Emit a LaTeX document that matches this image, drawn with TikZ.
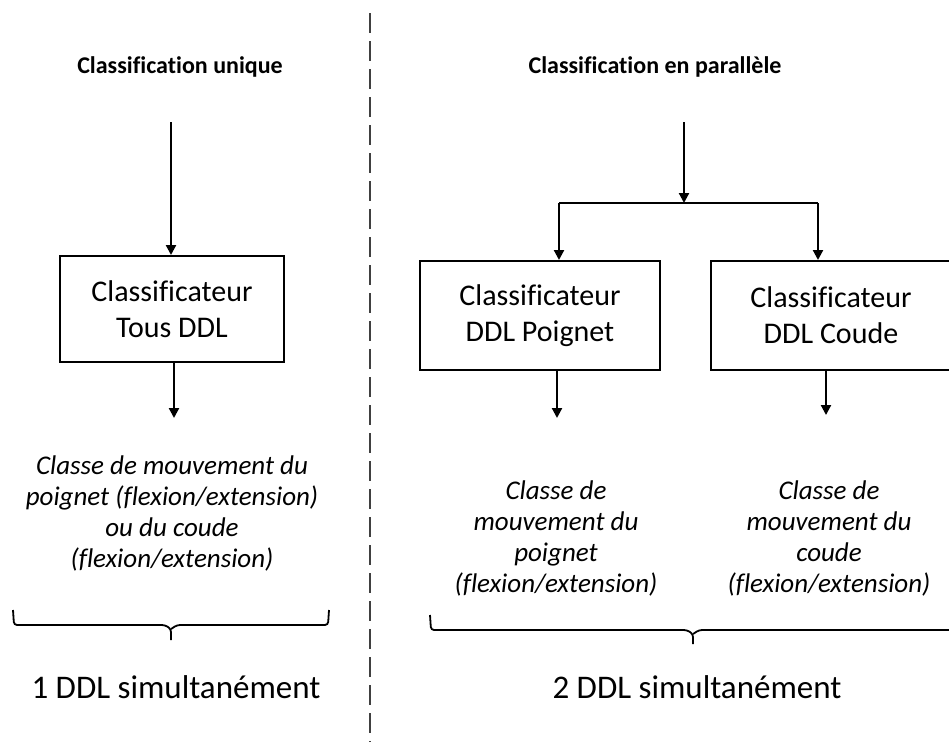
\documentclass[tikz,border=0pt]{standalone}
\usepackage{fontspec}
\setmainfont[Ligatures=NoCommon]{Carlito}
\usetikzlibrary{arrows.meta}
\tikzset{
  conn/.style={line width=2.2pt, -{Triangle[width=10pt,length=10pt]}},
  plain/.style={line width=2.2pt},
  clsbox/.style={draw, line width=2pt, align=center, inner sep=0pt,
    font=\fontsize{30}{36}\selectfont},
  outtext/.style={align=center, font=\fontsize{27}{31}\selectfont\itshape},
  title/.style={font=\fontsize{24}{28}\selectfont\bfseries},
  bottomtext/.style={font=\fontsize{33}{38}\selectfont},
  brace/.style={line width=1.8pt, rounded corners=3pt},
  divider/.style={line width=2.4pt, black!75, dash pattern=on 20pt off 8pt}
}
\begin{document}
\begin{tikzpicture}[x=1pt,y=-1pt]
\path[use as bounding box] (0,0) rectangle (949,742);
\clip (0,0) rectangle (949,742);

% divider
\coordinate (dtop) at (370,13);
\coordinate (dbot) at (370,742);
\draw[divider] (dtop) -- (dbot);

% titles
\node[title] (t1) at (180,67) {Classification unique};
\node[title] (t2) at (655,67) {Classification en parallèle};

% left part
\node[clsbox, minimum width=224pt, minimum height=106pt] (b1) at (172,309) {Classificateur\\Tous DDL};
\coordinate (in1) at (171,122);
\draw[conn] (in1) -- (in1 |- b1.north);
\coordinate (o1) at (174,418);
\draw[conn] (o1 |- b1.south) -- (o1);
\node[outtext] (c1) at (172,513) {Classe de mouvement du\\poignet (flexion/extension)\\ou du coude\\(flexion/extension)};
\draw[brace] (13,610) -- (14,625) -- (165,625) -- (171,629) -- (171,640);
\draw[brace] (171,629) -- (177,625) -- (328,625) -- (329,610);
\node[bottomtext] (s1) at (176,687) {1 DDL simultanément};

% right part
\node[clsbox, minimum width=240pt, minimum height=109pt] (b2) at (540,315.5) {Classificateur\\DDL Poignet};
\node[clsbox, minimum width=240pt, minimum height=109pt] (b3) at (831,315.5) {Classificateur\\DDL Coude};
\coordinate (in2) at (684,122);
\coordinate (split) at (684,203);
\coordinate (sl) at (559,203);
\coordinate (sr) at (818,203);
\draw[conn] (in2) -- (split);
\draw[plain] (sl) -- (sr);
\draw[conn] (sl) -- (sl |- b2.north);
\draw[conn] (sr) -- (sr |- b3.north);
\coordinate (o2) at (557,418);
\coordinate (o3) at (826,415);
\draw[conn] (o2 |- b2.south) -- (o2);
\draw[conn] (o3 |- b3.south) -- (o3);
\node[outtext] (c2) at (556,538) {Classe de\\mouvement du\\poignet\\(flexion/extension)};
\node[outtext] (c3) at (829,538) {Classe de\\mouvement du\\coude\\(flexion/extension)};
\draw[brace] (430,615) -- (431,630) -- (687,630) -- (693,634) -- (693,644);
\draw[brace] (693,634) -- (699,630) -- (960,630);
\node[bottomtext] (s2) at (697,687) {2 DDL simultanément};
\end{tikzpicture}
\end{document}
